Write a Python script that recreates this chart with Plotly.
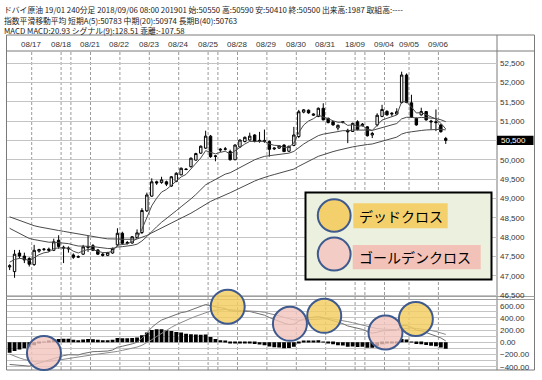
import plotly.graph_objects as go

# ---------------- data ----------------
bar_index = list(range(90))

opens = [47230, 47110, 47590, 47510, 47450, 47290, 47640, 47680, 47690, 47660,
         47920, 47740, 47720, 47540, 47480, 47560, 47730, 47780, 47670, 47560,
         47530, 47590, 47800, 48100, 47840, 47850, 47990, 48120, 48680, 49060,
         49430, 49410, 49430, 49320, 49440, 49610, 49760, 49820, 49990, 50170,
         50300, 50610, 50100, 50250, 50270, 50210, 50000, 50330, 50470, 50510,
         50640, 50480, 50500, 50470, 50280, 50300, 50380, 50220, 50370, 50600,
         51230, 51280, 51150, 51120, 51330, 51070, 50980, 50820, 50960, 50760,
         50730, 50980, 50880, 50850, 50640, 50900, 51120, 51250, 51180, 51180,
         51480, 52190, 51470, 51070, 51160, 51245, 51000, 50980, 50900, 50550]
highs = [47300, 47670, 47670, 47600, 47480, 47800, 47700, 47720, 47730, 47960,
         48050, 47780, 47760, 47580, 47530, 47800, 48030, 47820, 47690, 47600,
         47620, 47730, 48230, 48140, 47900, 48030, 48200, 48750, 49150, 49520,
         49460, 49560, 49460, 49580, 49680, 49800, 49780, 50060, 50180, 50370,
         50750, 50640, 50120, 50300, 50330, 50260, 50400, 50520, 50600, 50700,
         50660, 50720, 50780, 50500, 50320, 50380, 50400, 50360, 50850, 51290,
         51310, 51300, 51200, 51350, 51460, 51090, 51000, 50910, 51000, 50800,
         50960, 51020, 50950, 50870, 50720, 51200, 51420, 51280, 51230, 51330,
         52275, 52230, 51680, 51090, 51345, 51260, 51030, 51300, 50920, 50590]
lows = [47150, 46950, 47450, 47330, 47240, 47260, 47600, 47640, 47620, 47640,
        47700, 47330, 47600, 47440, 47460, 47540, 47620, 47640, 47540, 47500,
        47510, 47570, 47760, 47800, 47810, 47830, 47970, 48080, 48650, 49040,
        49350, 49380, 49320, 49300, 49420, 49600, 49730, 49800, 49980, 50150,
        50280, 50050, 49960, 50200, 50240, 49980, 49990, 50310, 50450, 50500,
        50450, 50440, 50440, 50080, 50250, 50280, 50200, 50200, 50350, 50560,
        51200, 51190, 51130, 51100, 51020, 50940, 50880, 50760, 50940, 50430,
        50720, 50760, 50860, 50600, 50560, 50860, 51100, 51140, 51120, 51160,
        51450, 51460, 51080, 50880, 51140, 51010, 50780, 50740, 50700, 50410]
closes = [47260, 47560, 47510, 47410, 47300, 47660, 47680, 47690, 47660, 47880,
          47760, 47720, 47700, 47480, 47500, 47750, 47760, 47660, 47560, 47530,
          47600, 47710, 48100, 47840, 47860, 48010, 48110, 48690, 49090, 49430,
          49400, 49480, 49370, 49560, 49650, 49780, 49750, 50040, 50160, 50350,
          50610, 50080, 50090, 50270, 50280, 50000, 50380, 50510, 50580, 50610,
          50470, 50500, 50470, 50270, 50300, 50360, 50210, 50350, 50640, 51240,
          51290, 51210, 51180, 51330, 51030, 50960, 50900, 50890, 50980, 50720,
          50940, 50780, 50920, 50620, 50680, 51150, 51300, 51160, 51200, 51240,
          52190, 51480, 51100, 50900, 51245, 51030, 50980, 50960, 50725, 50500]

# day separators: first bar of each trading day and its label ("" = no label)
day_start = [5, 11, 13, 17, 23, 29, 35, 41, 43, 47, 53, 59, 65, 71, 73, 77, 82, 88]
day_label = ["08/17", "08/18", "", "08/21", "08/22", "08/23", "08/24", "08/25", "",
             "08/28", "08/29", "08/30", "08/31", "18/09", "", "09/04", "09/05", "09/06"]

price_ticks = [46500, 47000, 47500, 48000, 48500, 49000, 49500, 50000,
               50500, 51000, 51500, 52000, 52500]
macd_ticks = [-400, -200, 0, 200, 400, 600]
last_price = 50500

# EMA periods and the indicator levels just before the first bar
ema_periods = [5, 20, 40]
ema_seed = [47400, 48330, 48590]
macd_fast, macd_slow, macd_sig = 12, 26, 9
macd_fast_seed, macd_slow_seed, macd_sig_seed = 48100, 48420, -150

# hand-drawn cross markers on the MACD panel
cross_bar = [7.0, 44.5, 57.2, 64.2, 76.7, 82.9]
cross_val = [-175, 584, 303, 434, 161, 382]
cross_kind = ["golden", "dead", "golden", "dead", "golden", "dead"]

header_lines = [
    "ドバイ原油 19/01 240分足 2018/09/06 08:00 201901 始:50550 高:50590 安:50410 終:50500 出来高:1987 取組高:----",
    "指数平滑移動平均 短期A(5):50783 中期(20):50974 長期B(40):50763",
    "MACD MACD:20.93 シグナル(9):128.51 乖離:-107.58",
]
legend_labels = ["デッドクロス", "ゴールデンクロス"]


def ema(values, n, seed):
    a = 2.0 / (n + 1)
    e = seed
    out = []
    for v in values:
        e = e + a * (v - e)
        out.append(e)
    return out


ema_lines = [ema(closes, n, s) for n, s in zip(ema_periods, ema_seed)]
fast = ema(closes, macd_fast, macd_fast_seed)
slow = ema(closes, macd_slow, macd_slow_seed)
macd = [f - s for f, s in zip(fast, slow)]
signal = ema(macd, macd_sig, macd_sig_seed)
hist = [m - s for m, s in zip(macd, signal)]

# ---------------- layout geometry ----------------
W, H = 542, 380
ML, MR, MT, MB = 7, 45, 51, 10
PW = W - ML - MR
PH = H - MT - MB


def fx(px):
    return (px - ML) / PW


def fy(py):
    return (H - MB - py) / PH


YELLOW = "#F4D06C"
PINK = "#F3CCC6"
RING = "#3E5A8E"
GRID = "#C4C4C4"
VGRID = "#9A9A9A"
FRAME = "#7A7A7A"

fig = go.Figure()

fig.add_trace(go.Candlestick(
    x=bar_index, open=opens, high=highs, low=lows, close=closes,
    increasing=dict(fillcolor="white", line=dict(color="black", width=1)),
    decreasing=dict(fillcolor="black", line=dict(color="black", width=1)),
    whiskerwidth=0, xaxis="x", yaxis="y", showlegend=False,
    hoverinfo="skip"))

for line_vals in ema_lines:
    fig.add_trace(go.Scatter(x=bar_index, y=line_vals, mode="lines",
                             line=dict(color="#4A4A4A", width=1),
                             xaxis="x", yaxis="y", showlegend=False, hoverinfo="skip"))

fig.add_trace(go.Bar(x=bar_index, y=hist, marker=dict(color="black", line=dict(width=0)),
                     width=0.78, xaxis="x2", yaxis="y2", showlegend=False, hoverinfo="skip"))
fig.add_trace(go.Scatter(x=bar_index, y=macd, mode="lines", line=dict(color="#6E6E6E", width=1),
                         xaxis="x2", yaxis="y2", showlegend=False, hoverinfo="skip"))
fig.add_trace(go.Scatter(x=bar_index, y=signal, mode="lines", line=dict(color="#8A8A8A", width=1),
                         xaxis="x2", yaxis="y2", showlegend=False, hoverinfo="skip"))

fig.add_trace(go.Scatter(
    x=cross_bar, y=cross_val, mode="markers", cliponaxis=False,
    marker=dict(size=34, symbol="circle",
                color=["rgba(244,205,95,0.82)" if k == "dead" else "rgba(243,196,190,0.8)"
                       for k in cross_kind],
                line=dict(color=RING, width=2)),
    xaxis="x2", yaxis="y2", showlegend=False, hoverinfo="skip"))

xr = [-0.54, 99.46]
p_top, p_bot = 296.5, 51
m_top = 299.5
ppx = 500 / 19.35
price_range = [52500 - (p_top - 63) * ppx, 52500 + (63 - p_bot) * ppx]
mpx = 200 / 12.2
macd_range = [-(370 - 342.3) * mpx, (342.3 - m_top) * mpx]

axis_font = dict(family="Liberation Sans, Arial, sans-serif", size=8, color="#333333")

fig.update_layout(
    width=W, height=H, margin=dict(l=ML, r=MR, t=MT, b=MB),
    paper_bgcolor="white", plot_bgcolor="white", showlegend=False,
    bargap=0.2,
    xaxis=dict(domain=[0, 1], range=xr, showgrid=False, showticklabels=False, zeroline=False,
               rangeslider=dict(visible=False), anchor="y", fixedrange=True),
    yaxis=dict(domain=[fy(p_top), 1], range=price_range, side="right", tickvals=price_ticks,
               tickformat=",d", showgrid=True, gridcolor=GRID, gridwidth=1, zeroline=False,
               tickfont=axis_font, ticks="", ticklabelstandoff=2, anchor="x"),
    xaxis2=dict(domain=[0, 1], range=xr, matches="x", showgrid=False, showticklabels=False,
                zeroline=False, anchor="y2"),
    yaxis2=dict(domain=[0, fy(m_top)], range=macd_range, side="right", tickvals=macd_ticks,
                tickformat=",.2f", showgrid=True, gridcolor=GRID, gridwidth=1, zeroline=False,
                tickfont=axis_font, ticks="", ticklabelstandoff=2, anchor="x2",
                minor=dict(dtick=100, showgrid=True, gridcolor=GRID, gridwidth=1)),
)

shapes = []
# vertical day separators across both panels
for s in day_start:
    shapes.append(dict(type="line", xref="x", yref="paper", x0=s - 0.5, x1=s - 0.5, y0=0, y1=1,
                       line=dict(color=VGRID, width=1, dash="3px,2px"), layer="below"))
# frame and separators
RIGHT = 534.5
shapes += [
    dict(type="rect", xref="paper", yref="paper", x0=fx(6.5), x1=fx(RIGHT), y0=fy(370), y1=fy(35),
         line=dict(color=FRAME, width=1), layer="below"),
    dict(type="line", xref="paper", yref="paper", x0=fx(6.5), x1=fx(RIGHT), y0=1, y1=1,
         line=dict(color=FRAME, width=1), layer="below"),
    dict(type="line", xref="paper", yref="paper", x0=1, x1=1, y0=fy(370), y1=fy(35),
         line=dict(color=FRAME, width=1), layer="below"),
    dict(type="line", xref="paper", yref="paper", x0=fx(6.5), x1=fx(RIGHT), y0=fy(p_top), y1=fy(p_top),
         line=dict(color="#A0A0A0", width=1), layer="below"),
    dict(type="line", xref="paper", yref="paper", x0=fx(6.5), x1=fx(RIGHT), y0=fy(m_top), y1=fy(m_top),
         line=dict(color="#A0A0A0", width=1), layer="below"),
]
# last price box
box_h = 4.6 * ppx
shapes.append(dict(type="rect", xref="paper", yref="y", x0=fx(497), x1=fx(533.5),
                   y0=last_price - box_h, y1=last_price + box_h,
                   fillcolor="black", line=dict(width=0), layer="above"))
# legend panel
shapes += [
    dict(type="rect", xref="paper", yref="paper", x0=fx(305.5), x1=fx(491.5), y0=fy(279.5), y1=fy(192.5),
         fillcolor="#EBF1DE", line=dict(color="black", width=2), layer="above"),
    dict(type="rect", xref="paper", yref="paper", x0=fx(353.3), x1=fx(447.7), y0=fy(228.3), y1=fy(203.3),
         fillcolor=YELLOW, line=dict(width=0), layer="above"),
    dict(type="rect", xref="paper", yref="paper", x0=fx(352.7), x1=fx(480.7), y0=fy(269.3), y1=fy(245),
         fillcolor="#F2C2B8", line=dict(width=0), layer="above"),
    dict(type="circle", xref="paper", yref="paper", x0=fx(317.8), x1=fx(350.6), y0=fy(231.8), y1=fy(199.2),
         fillcolor=YELLOW, line=dict(color=RING, width=2), layer="above"),
    dict(type="circle", xref="paper", yref="paper", x0=fx(317.8), x1=fx(350.6), y0=fy(270.6), y1=fy(237.6),
         fillcolor=PINK, line=dict(color=RING, width=2), layer="above"),
]
fig.update_layout(shapes=shapes)

ann = []
jp = "Noto Sans CJK JP, sans-serif"
for i, txt in enumerate(header_lines):
    ann.append(dict(xref="paper", yref="paper", x=fx(1.5), y=fy(9.3 + i * 10.7), text=txt,
                    showarrow=False, xanchor="left", yanchor="middle",
                    font=dict(family=jp, size=7.8, color="#222222")))
for s, lab in zip(day_start, day_label):
    if lab:
        ann.append(dict(xref="x", yref="paper", x=s - 0.5, y=fy(44), text=lab, showarrow=False,
                        xanchor="center", yanchor="middle", font=axis_font))
ann.append(dict(xref="paper", yref="y", x=fx(498.5), y=last_price, text=f"{last_price:,d}",
                showarrow=False, xanchor="left", yanchor="middle",
                font=dict(family="Liberation Sans, Arial, sans-serif", size=8, color="white")))
ann.append(dict(xref="paper", yref="paper", x=fx(356.5), y=fy(216), text=legend_labels[0],
                showarrow=False, xanchor="left", yanchor="middle",
                font=dict(family=jp, size=14, color="black")))
ann.append(dict(xref="paper", yref="paper", x=fx(356.5), y=fy(257), text=legend_labels[1],
                showarrow=False, xanchor="left", yanchor="middle",
                font=dict(family=jp, size=14, color="black")))
fig.update_layout(annotations=ann)

fig.write_html("out.html", config={"displayModeBar": False},
               post_script="document.body.style.margin='0';")
